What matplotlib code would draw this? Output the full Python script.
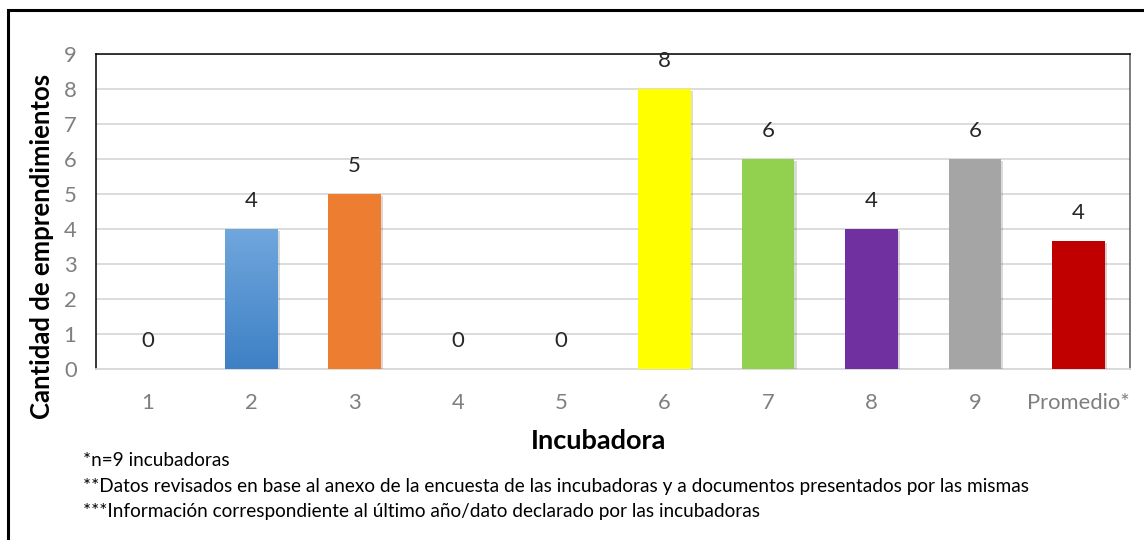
import matplotlib

matplotlib.use("Agg")
import matplotlib.pyplot as plt
import matplotlib.patheffects as pe
from matplotlib.patches import Rectangle
import numpy as np

plt.rcParams["font.family"] = ["Lato", "DejaVu Sans"]

categories = ["1", "2", "3", "4", "5", "6", "7", "8", "9", "Promedio*"]
values = [0, 4, 5, 0, 0, 8, 6, 4, 6, 33 / 9]
colors = ["#5B9BD5", "#5B9BD5", "#ED7D31", "#A5A5A5", "#FFC000",
          "#FFFF00", "#92D050", "#7030A0", "#A5A5A5", "#C00000"]
yticks = list(range(0, 10))
footnotes = [
    "*n=9 incubadoras",
    "**Datos revisados en base al anexo de la encuesta de las incubadoras y a documentos presentados por las mismas",
    "***Información correspondiente al último año/dato declarado por las incubadoras",
]

fig = plt.figure(figsize=(11.44, 5.40), dpi=100)
ax = fig.add_axes([96 / 1144, 1 - 369 / 540, (1130 - 96) / 1144, (369 - 54) / 540])

x = np.arange(1, len(categories) + 1)
shadow = [pe.SimplePatchShadow(offset=(1.5, -1.5), alpha=0.18), pe.Normal()]
bars = ax.bar(x, values, width=0.51, color=colors, zorder=3, path_effects=shadow)

# bar 2 has a light-to-dark blue gradient
b = bars[1]
grad = np.linspace(0, 1, 256).reshape(-1, 1)
cmap = matplotlib.colors.LinearSegmentedColormap.from_list("blu", ["#3E80C5", "#70A7DD"])
im = ax.imshow(grad, cmap=cmap, origin="lower", aspect="auto", zorder=3.5,
               extent=[b.get_x(), b.get_x() + b.get_width(), 0, b.get_height()])
im.set_clip_path(b)

for xi, v in zip(x, values):
    ax.annotate(f"{v:.0f}", (xi, v), xytext=(0, 20), textcoords="offset points",
                ha="center", va="center", fontsize=16, color="#262626",
                annotation_clip=False, zorder=5)

ax.set_xlim(0.5, len(categories) + 0.5)
ax.set_ylim(0, 9)
ax.set_yticks(yticks)
ax.set_xticks(x)
ax.set_xticklabels(categories)
ax.tick_params(axis="both", length=0, colors="#7F7F7F", labelsize=15.8)
ax.tick_params(axis="x", pad=17)
ax.tick_params(axis="y", pad=14)
ax.grid(axis="y", color="#D9D9D9", lw=1.3, zorder=0)
ax.set_axisbelow(True)
for s in ("top", "left"):
    ax.spines[s].set_color("#000000")
    ax.spines[s].set_linewidth(1.1)
ax.spines["right"].set_color("#595959")
ax.spines["right"].set_linewidth(1.1)
ax.spines["bottom"].set_color("#D9D9D9")
ax.spines["bottom"].set_linewidth(1.3)

fig.text(42 / 1144, 1 - 246 / 540, "Cantidad de emprendimientos", rotation=90,
         ha="center", va="center", fontsize=18.5, fontweight="bold", color="#000000")
fig.text(599 / 1144, 1 - 441 / 540, "Incubadora", ha="center", va="center",
         fontsize=19.5, fontweight="bold", color="#000000")
for i, t in enumerate(footnotes):
    fig.text(83 / 1144, 1 - (461 + 25.5 * i) / 540, t, ha="left", va="center",
             fontsize=13.7, color="#000000")

# outer frame around the whole chart
fig.patches.append(Rectangle((8 / 1144, -0.05), 1.1, 1 - 10 / 540 + 0.05,
                             transform=fig.transFigure, fill=False,
                             edgecolor="#000000", lw=2.2))

fig.savefig("out.png", dpi=100)
